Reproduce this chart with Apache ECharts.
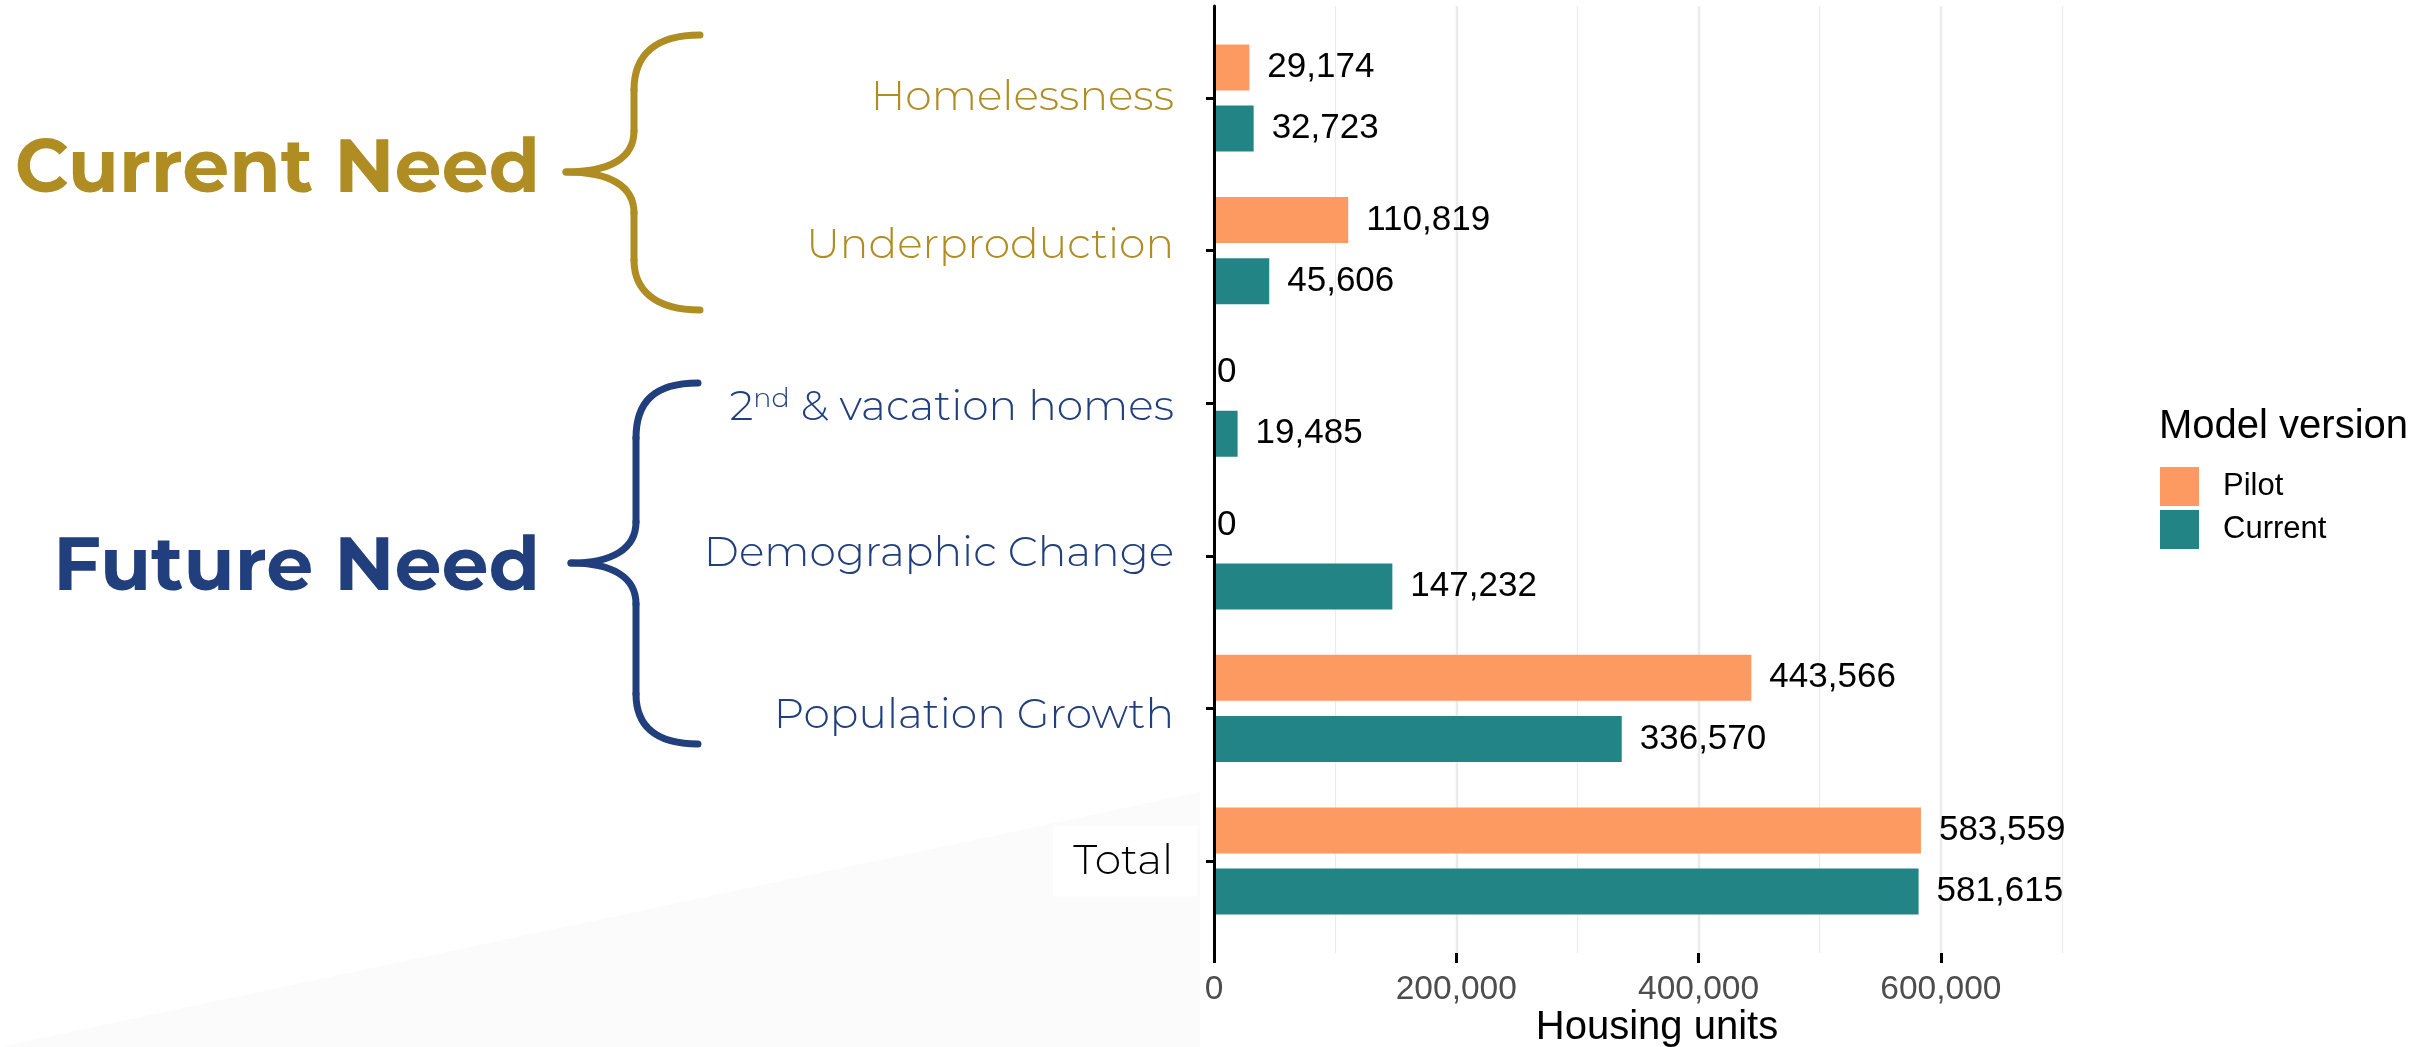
<!DOCTYPE html>
<html>
<head>
<meta charset="utf-8">
<title>Housing need by component</title>
<script src="https://cdn.jsdelivr.net/npm/echarts@6/dist/echarts.min.js"></script>
<style>
html, body { margin: 0; padding: 0; background: #fff; }
#chart { width: 2430px; height: 1047px; }
</style>
</head>
<body>
<div id="chart"></div>
<script>
// data
var categories = ['Homelessness', 'Underproduction', '2nd & vacation homes', 'Demographic Change', 'Population Growth', 'Total'];
var seriesNames = ['Pilot', 'Current'];
var pilotValues = [29174, 110819, 0, 0, 443566, 583559];
var currentValues = [32723, 45606, 19485, 147232, 336570, 581615];
var xTicks = [0, 200000, 400000, 600000];
var groupLabels = ['Current Need', 'Future Need'];

// styles
var GOLD = '#AF8D22', NAVY = '#213F7D';
var ORANGE = '#FD9A61', TEAL = '#228484';
var SANS = '"Liberation Sans", Arial, Helvetica, sans-serif';
var LABEL_FONT = 'Montserrat, "Open Sans", sans-serif';
var catColor = [GOLD, GOLD, NAVY, NAVY, NAVY, '#000'];
var catShift = [-1, -5, 4, -2, 7, 0];   // small vertical nudges of the hand-placed labels

var chart = echarts.init(document.getElementById('chart'));

function fmt(v) { return Number(v).toLocaleString('en-US'); }

function barData(values) {
    return values.map(function (v) {
        return { value: v, label: { distance: v === 0 ? 3 : 18 } };
    });
}

function pad(s, right) {
    return s < 0 ? [0, right, -2 * s, 0] : [2 * s, right, 0, 0];
}

var labelBase = { fontSize: 42.5, fontFamily: LABEL_FONT, fontWeight: 300 };
var catRich = {
    futA: Object.assign({}, labelBase, { color: NAVY, padding: pad(catShift[2], 0) }),
    sup: { fontSize: 27, fontFamily: LABEL_FONT, fontWeight: 300, color: NAVY, verticalAlign: 'top',
           padding: pad(catShift[2], 0) },
    tot: Object.assign({}, labelBase, { color: '#000', backgroundColor: '#fff', padding: [14, 24, 14, 20] })
};
catColor.forEach(function (c, i) {
    catRich['c' + i] = Object.assign({}, labelBase, { color: c, padding: pad(catShift[i], 23) });
});

function catLabel(value, idx) {
    if (value.indexOf('2nd') === 0) {
        return '{futA|2}{sup|nd}{c' + idx + '|' + value.slice(3) + '}';
    }
    if (value === 'Total') return '{tot|' + value + '}';
    return '{c' + idx + '|' + value + '}';
}

// curly brace: end x, stem x, tip x, top y, tip y, bottom y
function brace(ex, sx, tx, y0, ty, y1, color) {
    var st = { stroke: color, lineWidth: 7, fill: 'none', lineCap: 'round' };
    var a = y0 + 55, b = ty - 41, c = ty + 41, d = y1 - 50;
    function bz(x1, y1_, c1x, c1y, c2x, c2y, x2, y2) {
        return { type: 'bezierCurve', silent: true, style: st,
                 shape: { x1: x1, y1: y1_, cpx1: c1x, cpy1: c1y, cpx2: c2x, cpy2: c2y, x2: x2, y2: y2 } };
    }
    function ln(x1, y1_, x2, y2) {
        return { type: 'line', silent: true, style: st, shape: { x1: x1, y1: y1_, x2: x2, y2: y2 } };
    }
    return [
        bz(ex, y0, ex - 45, y0, sx, y0 + 20, sx, a),
        ln(sx, a, sx, b),
        bz(sx, b, sx, b + 27, sx - 24, ty, tx, ty),
        bz(tx, ty, sx - 24, ty, sx, c - 27, sx, c),
        ln(sx, c, sx, d),
        bz(sx, d, sx, d + 30, ex - 45, y1, ex, y1)
    ];
}

var graphics = [
    {   // faint backdrop in the lower left
        type: 'polygon', z: -10, silent: true,
        shape: { points: [[0, 1047], [1200, 792], [1200, 1047]] },
        style: { fill: '#fbfbfb' }
    },
    {
        type: 'text', x: 540, y: 170, silent: true,
        style: { text: groupLabels[0], fontSize: 74.5, fontWeight: 'bold', fontFamily: LABEL_FONT,
                 fill: GOLD, align: 'right', verticalAlign: 'middle' }
    },
    {
        type: 'text', x: 540, y: 568, silent: true,
        style: { text: groupLabels[1], fontSize: 74.5, fontWeight: 'bold', fontFamily: LABEL_FONT,
                 fill: NAVY, align: 'right', verticalAlign: 'middle' }
    },
    {
        type: 'text', x: 2159, y: 427, silent: true,
        style: { text: 'Model version', fontSize: 40, fontFamily: SANS, fill: '#000',
                 align: 'left', verticalAlign: 'middle' }
    }
].concat(brace(700, 634, 566, 35, 172, 310, GOLD), brace(698, 636, 571, 383, 563, 744, NAVY));

var option = {
    backgroundColor: '#fff',
    animation: false,
    grid: [
        { left: 1214, top: 6, width: 848, height: 947, outerBoundsMode: 'none', containLabel: false },
        { left: 1214, top: 21.7, width: 848, height: 915.6, outerBoundsMode: 'none', containLabel: false }
    ],
    legend: {
        data: seriesNames,
        orient: 'vertical',
        left: 2160,
        top: 467,
        padding: 0,
        itemWidth: 39,
        itemHeight: 39,
        itemGap: 4,
        icon: 'rect',
        selectedMode: false,
        textStyle: { fontSize: 31, fontFamily: SANS, color: '#000', padding: [0, 0, 0, 19] }
    },
    xAxis: [
        {   // minor grid lines
            gridIndex: 0, type: 'value', position: 'bottom', min: 0, max: 700000, interval: 100000,
            axisLine: { show: false }, axisTick: { show: false }, axisLabel: { show: false },
            splitLine: { lineStyle: { color: '#ebebeb', width: 1.2 } }
        },
        {   // major grid, ticks and labels
            gridIndex: 0, type: 'value', position: 'bottom', min: 0, max: 700000, interval: 200000,
            axisLine: { show: false },
            axisTick: { show: true, customValues: xTicks, length: 10, lineStyle: { color: '#000', width: 3 } },
            axisLabel: {
                customValues: xTicks, fontSize: 33.5, fontFamily: SANS, color: '#4d4d4d', margin: 20,
                formatter: fmt
            },
            splitLine: { lineStyle: { color: '#ebebeb', width: 2.4 } },
            name: 'Housing units', nameLocation: 'middle', nameGap: 55, nameMoveOverlap: false,
            nameTextStyle: { fontSize: 40, fontFamily: SANS, color: '#000', padding: [0, 0, 0, 38] }
        },
        {   // bar scale
            gridIndex: 1, type: 'value', min: 0, max: 700000, show: false
        }
    ],
    yAxis: [
        {
            gridIndex: 0, type: 'value', min: 0, max: 1, z: 5,
            axisLine: { show: true, lineStyle: { color: '#000', width: 3 } },
            axisTick: { show: false }, axisLabel: { show: false }, splitLine: { show: false }
        },
        {
            gridIndex: 1, type: 'category', data: categories, inverse: true, z: 5,
            axisLine: { show: false },
            axisTick: { show: true, alignWithLabel: true, length: 8, lineStyle: { color: '#000', width: 3 } },
            axisLabel: { interval: 0, margin: 17, formatter: catLabel, rich: catRich }
        }
    ],
    series: [
        {
            name: seriesNames[0], type: 'bar', xAxisIndex: 2, yAxisIndex: 1,
            data: barData(pilotValues), barWidth: 46, barGap: '33%',
            itemStyle: { color: ORANGE },
            label: { show: true, position: 'right', fontSize: 35, fontFamily: SANS, color: '#000',
                     formatter: function (p) { return fmt(p.value); } }
        },
        {
            name: seriesNames[1], type: 'bar', xAxisIndex: 2, yAxisIndex: 1,
            data: barData(currentValues), barWidth: 46, barGap: '33%',
            itemStyle: { color: TEAL },
            label: { show: true, position: 'right', fontSize: 35, fontFamily: SANS, color: '#000',
                     formatter: function (p) { return fmt(p.value); } }
        }
    ],
    graphic: graphics
};

chart.setOption(option);
</script>
</body>
</html>
